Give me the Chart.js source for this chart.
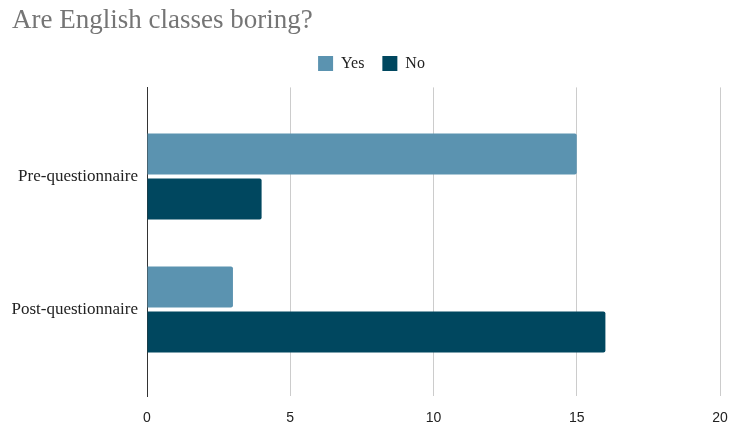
<!DOCTYPE html>
<html>
<head>
<meta charset="utf-8">
<script src="https://cdn.jsdelivr.net/npm/chart.js@4/dist/chart.umd.min.js"></script>
<style>
  html, body { margin: 0; padding: 0; background: #ffffff; }
  #wrap { width: 731px; height: 424px; }
</style>
</head>
<body>
<div id="wrap"><canvas id="boringChart"></canvas></div>
<script>
// Données
const categories = ['Pre-questionnaire', 'Post-questionnaire'];
const yesValues = [15, 3];
const noValues = [4, 16];
const xTicks = [0, 5, 10, 15, 20];

const palette = {
  yes: '#5b93b0',
  no: '#00475f',
  title: '#757575',
  text: '#222222',
  grid: '#cccccc'
};

const serif = '"Liberation Serif", "DejaVu Serif", serif';

function toPoints(values) {
  return values.map((v, i) => ({ x: v, y: i }));
}

// un peu d'espace sous la légende
const legendGap = {
  id: 'legendGap',
  beforeInit(chart) {
    const fit = chart.legend.fit;
    chart.legend.fit = function() {
      fit.call(this);
      this.height += 6;
    };
  }
};

new Chart(document.getElementById('boringChart'), {
  type: 'bar',
  data: {
    datasets: [
      { label: 'Yes', data: toPoints(yesValues), backgroundColor: palette.yes, borderRadius: 2, borderSkipped: 'left' },
      { label: 'No', data: toPoints(noValues), backgroundColor: palette.no, borderRadius: 2, borderSkipped: 'left' }
    ]
  },
  plugins: [legendGap],
  options: {
    indexAxis: 'y',
    responsive: true,
    maintainAspectRatio: false,
    animation: false,
    categoryPercentage: 0.677,
    barPercentage: 0.91,
    layout: { padding: { left: 12, right: 0, top: 0, bottom: 0 } },
    scales: {
      x: {
        type: 'linear',
        min: 0,
        max: 20,
        afterBuildTicks: (scale) => { scale.ticks = xTicks.map(v => ({ value: v })); },
        ticks: { color: palette.text, font: { family: '"Liberation Sans", Arial, sans-serif', size: 14 }, padding: 14 },
        grid: { color: palette.grid, drawTicks: false },
        border: { display: false },
        afterFit: (scale) => { scale.height = 28; scale.paddingRight = 11; }
      },
      y: {
        type: 'linear',
        offset: false,
        reverse: true,
        min: -0.67,
        max: 1.65,
        afterBuildTicks: (scale) => { scale.ticks = categories.map((c, i) => ({ value: i })); },
        ticks: {
          color: palette.text,
          font: { family: serif, size: 17 },
          padding: 9,
          callback: (value) => categories[value]
        },
        grid: { display: false, drawTicks: false },
        border: { display: true, color: '#333333', width: 1 },
        afterFit: (scale) => { scale.width = 135; }
      }
    },
    plugins: {
      title: {
        display: true,
        text: 'Are English classes boring?',
        align: 'start',
        color: palette.title,
        font: { family: serif, size: 27, weight: 'normal' },
        padding: { top: 5, bottom: 0 }
      },
      legend: {
        position: 'top',
        labels: {
          color: palette.text,
          font: { family: serif, size: 16 },
          boxWidth: 15,
          boxHeight: 15,
          padding: 18
        }
      },
      tooltip: { enabled: false }
    }
  }
});
</script>
</body>
</html>
